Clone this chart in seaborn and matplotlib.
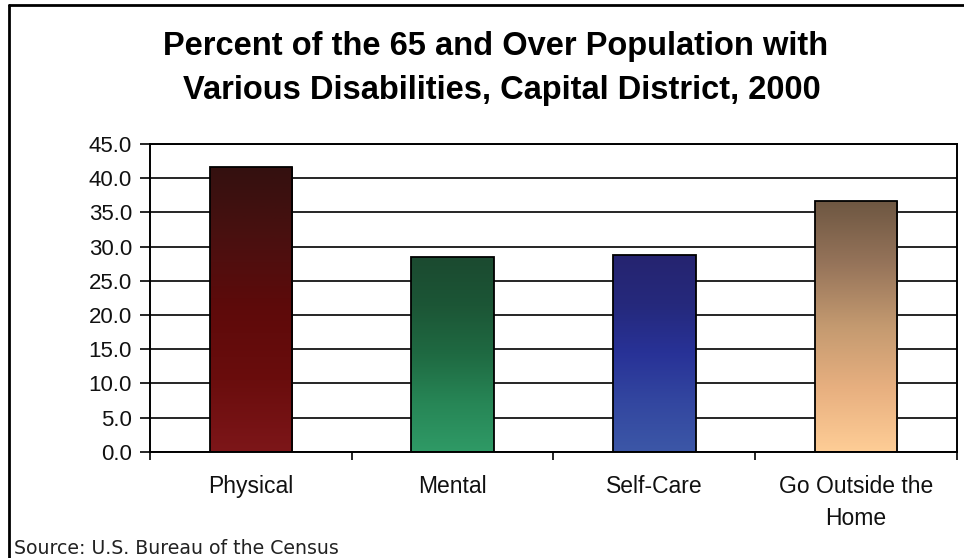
import numpy as np
import pandas as pd
import matplotlib
matplotlib.use('Agg')
import matplotlib.pyplot as plt
import seaborn as sns
from matplotlib.colors import LinearSegmentedColormap
from matplotlib.lines import Line2D
from matplotlib.ticker import FormatStrFormatter

# ---- data ----
categories = ['Physical', 'Mental', 'Self-Care', 'Go Outside the\nHome']
percent = [41.6, 28.5, 28.7, 36.7]
y_ticks = [0, 5, 10, 15, 20, 25, 30, 35, 40, 45]
title_line1 = 'Percent of the 65 and Over Population with'
title_line2 = 'Various Disabilities, Capital District, 2000'
source_text = 'Source: U.S. Bureau of the Census'

# ---- style: gradient stops (bottom -> top) ----
gradients = [
    ['#7d1619', '#6a0d0d', '#5e0a0a', '#4a1010', '#34100f'],
    ['#2f9a66', '#278656', '#1f6a42', '#1c5636', '#1b4a30'],
    ['#3c57a7', '#3347a0', '#283297', '#25297c', '#262470'],
    ['#fecd96', '#e8b080', '#c49a70', '#96745a', '#6e5742'],
]

sns.set_theme(style='white')
plt.rcParams['font.family'] = ['Liberation Sans', 'DejaVu Sans']

fig = plt.figure(figsize=(9.64, 5.58), dpi=100)
fig.patch.set_facecolor('white')
ax = fig.add_axes([0.1556, 0.1905, 0.8371, 0.5514])

df = pd.DataFrame({'category': categories, 'percent': percent})
sns.barplot(data=df, x='category', y='percent', ax=ax, width=0.41,
            color='white', edgecolor='black', linewidth=1.3, saturation=1,
            errorbar=None)

# gradient fills clipped to bars
for patch, stops in zip(ax.patches, gradients):
    x0, y0 = patch.get_x(), patch.get_y()
    w, h = patch.get_width(), patch.get_height()
    cmap = LinearSegmentedColormap.from_list('g', stops)
    grad = np.linspace(0, 1, 256).reshape(-1, 1)
    im = ax.imshow(grad, extent=[x0, x0 + w, y0, y0 + h], origin='lower',
                   aspect='auto', cmap=cmap, zorder=2.5)
    im.set_clip_path(patch)
    patch.set_facecolor('none')
    patch.set_zorder(3)

ax.set_xlim(-0.5, len(categories) - 0.5)
ax.set_ylim(0, 45)
ax.set_yticks(y_ticks)
ax.yaxis.set_major_formatter(FormatStrFormatter('%.1f'))
ax.set_axisbelow(True)
ax.yaxis.grid(True, color='black', linewidth=1.2)
ax.xaxis.grid(False)
for s in ax.spines.values():
    s.set_visible(True)
    s.set_color('black')
    s.set_linewidth(1.4)

ax.set_xlabel('')
ax.set_ylabel('')
ax.tick_params(axis='y', direction='out', length=7, width=1.2, color='black',
               labelsize=16, pad=6, left=True, labelcolor='#111111')
ax.tick_params(axis='x', which='major', length=0, labelsize=16.5, pad=17,
               labelcolor='#111111')
ax.set_xticks(np.arange(-0.5, len(categories), 1.0), minor=True)
ax.tick_params(axis='x', which='minor', direction='out', length=6, width=1.2,
               color='black', bottom=True)
for lbl in ax.get_xticklabels():
    lbl.set_linespacing(1.5)

# titles
fig.text(495.5 / 964, 1 - 47 / 558, title_line1, ha='center', va='center',
         fontsize=23.5, fontweight='bold', color='black')
fig.text(501.5 / 964, 1 - 90 / 558, title_line2, ha='center', va='center',
         fontsize=23.5, fontweight='bold', color='black')

# source
fig.text(14 / 964, 1 - 548 / 558, source_text, ha='left', va='center',
         fontsize=13.6, family=['DejaVu Sans'], color='#222222')

# outer frame lines
fig.add_artist(Line2D([8.5 / 964, 1.0], [1 - 4.5 / 558, 1 - 4.5 / 558],
                      transform=fig.transFigure, color='black', lw=2))
fig.add_artist(Line2D([8.5 / 964, 8.5 / 964], [0.0, 1 - 4.5 / 558],
                      transform=fig.transFigure, color='black', lw=2))

fig.savefig('out.png', dpi=100, facecolor='white')
